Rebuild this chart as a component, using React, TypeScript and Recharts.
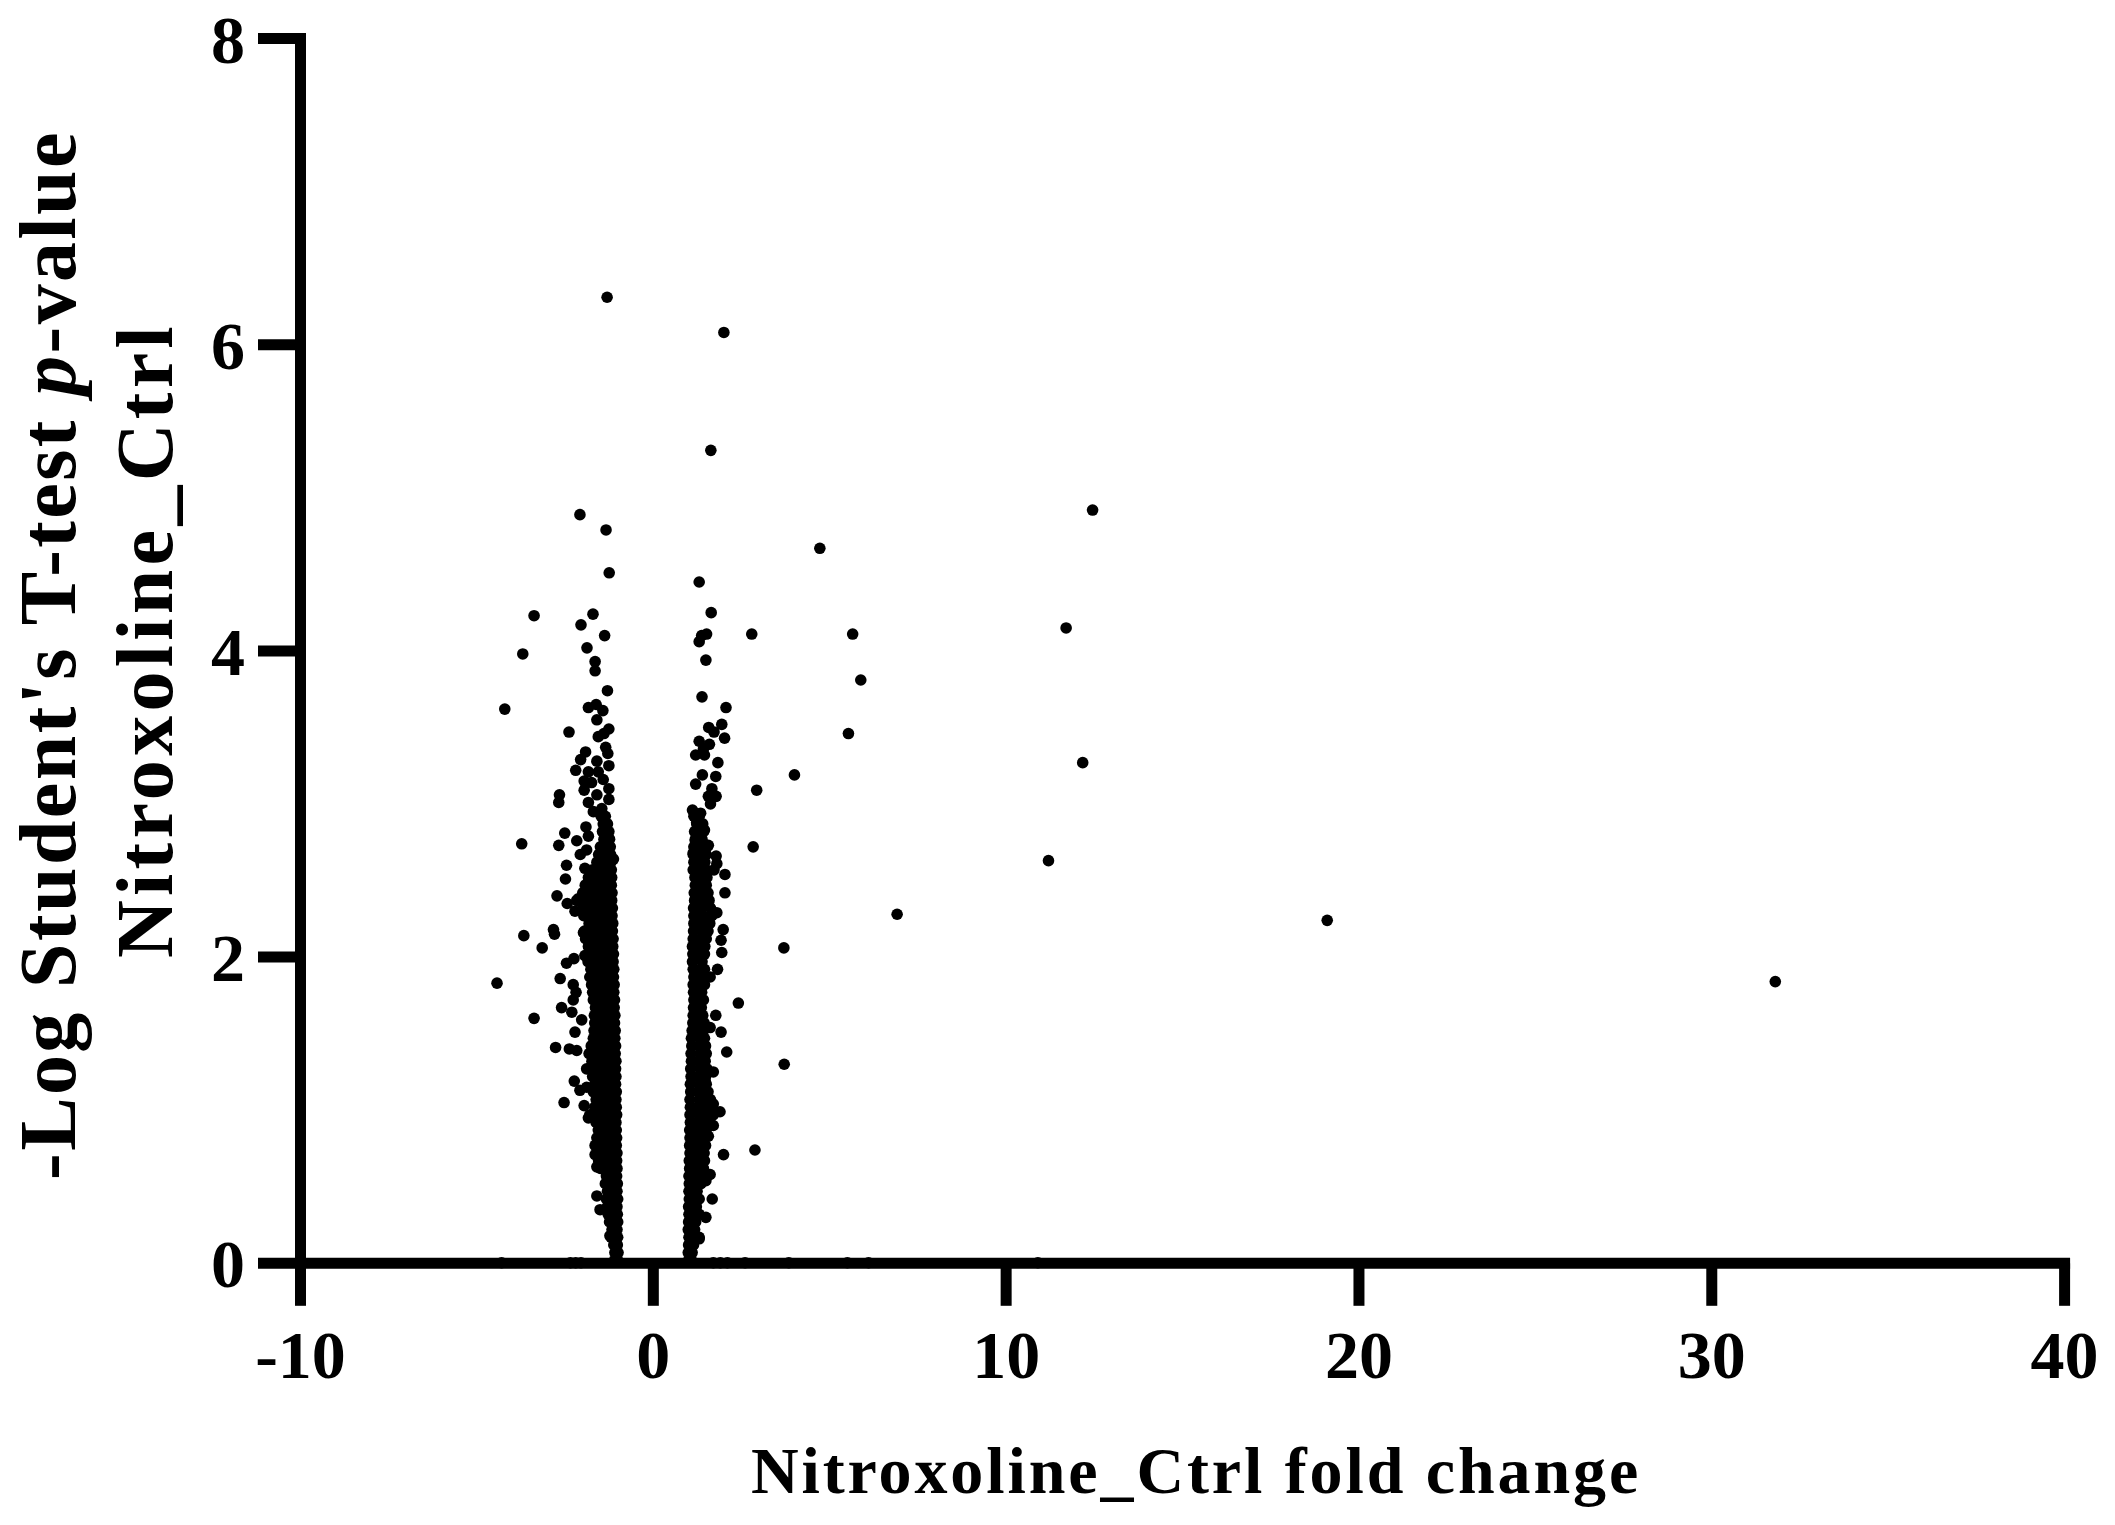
import React from 'react';
import { ScatterChart, Scatter, XAxis, YAxis } from 'recharts';

const xTicks = [-10, 0, 10, 20, 30, 40];
const yTicks = [0, 2, 4, 6, 8];

// far from the two bands: [fold change, -log p]
const rightOutliers: number[][] = [
  [31.8, 1.84], [19.1, 2.24], [12.45, 4.92], [11.7, 4.15], [12.17, 3.27], [11.2, 2.63],
  [6.91, 2.28], [4.72, 4.67], [5.65, 4.11], [5.88, 3.81], [5.53, 3.46], [4.0, 3.19],
  [2.93, 3.09], [2.83, 2.72], [3.7, 2.06], [3.71, 1.3], [2.88, 0.74], [2.79, 4.11],
  [2.41, 1.7], [2.0, 6.08], [1.63, 5.31], [1.3, 4.45], [1.64, 4.25], [1.51, 4.11],
  [1.37, 4.1], [1.3, 4.06], [1.49, 3.94], [1.38, 3.7], [2.06, 3.63], [1.94, 3.52],
  [1.57, 3.5], [1.72, 3.47], [2.02, 3.43], [1.3, 3.41], [1.59, 3.39], [1.42, 3.36],
  [1.2, 3.32], [1.45, 3.32], [1.83, 3.27], [1.39, 3.19], [1.77, 3.18], [1.2, 3.13],
  [1.66, 3.1], [1.56, 3.05], [1.78, 3.05], [1.62, 3.0], [1.11, 2.96], [1.34, 2.94],
  [1.23, 2.88], [1.45, 2.83], [1.19, 2.76], [1.56, 2.73], [1.13, 2.68], [1.37, 2.68],
  [1.78, 2.66], [1.8, 2.61], [1.72, 2.57], [2.03, 2.54], [2.03, 2.42], [1.8, 2.29],
  [1.98, 2.18], [1.92, 2.11], [1.94, 2.03], [1.82, 1.92], [1.61, 1.87], [1.77, 1.62],
  [1.92, 1.51], [1.61, 1.54], [2.08, 1.38], [1.7, 1.25], [1.47, 1.19], [1.89, 0.99],
  [1.7, 1.04], [1.7, 0.9], [1.56, 0.83], [1.99, 0.71], [1.61, 0.58], [1.49, 0.54],
  [1.67, 0.42], [1.49, 0.3], [1.3, 0.16],
];

const leftOutliers: number[][] = [
  [-1.31, 6.31], [-2.08, 4.89], [-1.34, 4.79], [-1.25, 4.51], [-3.38, 4.23], [-1.71, 4.24],
  [-2.05, 4.17], [-1.38, 4.1], [-1.88, 4.02], [-3.7, 3.98], [-1.65, 3.93], [-1.65, 3.87],
  [-1.3, 3.74], [-4.21, 3.62], [-1.84, 3.63], [-1.62, 3.65], [-1.43, 3.61], [-1.6, 3.55],
  [-2.39, 3.47], [-1.26, 3.49], [-1.4, 3.46], [-1.56, 3.44], [-1.35, 3.37], [-1.29, 3.33],
  [-1.92, 3.34], [-2.06, 3.29], [-2.2, 3.22], [-1.6, 3.28], [-1.26, 3.25], [-1.84, 3.21],
  [-1.56, 3.21], [-1.96, 3.15], [-1.96, 3.09], [-1.75, 3.14], [-1.42, 3.16], [-1.26, 3.1],
  [-1.6, 3.06], [-1.26, 3.03], [-2.66, 3.06], [-2.68, 3.01], [-1.84, 3.01], [-1.7, 2.95],
  [-1.46, 2.97], [-1.91, 2.85], [-2.51, 2.81], [-3.73, 2.74], [-2.68, 2.73], [-2.17, 2.76],
  [-1.84, 2.79], [-2.07, 2.67], [-1.89, 2.7], [-2.46, 2.6], [-2.49, 2.51], [-1.94, 2.58],
  [-1.13, 2.64], [-2.73, 2.4], [-2.13, 2.38], [-2.44, 2.35], [-2.17, 2.37], [-2.22, 2.3],
  [-2.83, 2.18], [-2.8, 2.15], [-3.67, 2.14], [-3.15, 2.06], [-1.98, 2.16], [-2.46, 1.96],
  [-2.25, 1.99], [-1.94, 2.01], [-4.43, 1.83], [-2.64, 1.86], [-2.27, 1.82], [-2.19, 1.77],
  [-2.27, 1.72], [-2.6, 1.67], [-2.31, 1.64], [-3.38, 1.6], [-2.03, 1.59], [-2.22, 1.51],
  [-2.77, 1.41], [-2.38, 1.4], [-2.17, 1.39], [-1.89, 1.27], [-2.24, 1.19], [-2.08, 1.13],
  [-1.89, 1.15], [-2.53, 1.05], [-1.96, 1.03], [-1.84, 0.95], [-1.65, 0.77], [-1.65, 0.71],
  [-1.6, 0.63], [-1.6, 0.44], [-1.51, 0.35], [-1.23, 0.18],
];

// points sitting almost on the x axis, only their tops show above the line
const baselinePoints: number[][] = [
  [-4.3, 0.004], [-2.35, 0.004], [-2.2, 0.004], [-2.05, 0.004], [1.7, 0.004], [1.9, 0.004],
  [2.1, 0.004], [2.6, 0.004], [3.84, 0.004], [5.5, 0.004], [6.1, 0.004], [10.9, 0.004],
];

// dense bands, one row per -log p: [-log p, fold change, fold change, ...]
const leftBandRows: number[][] = [
  [0.02, -1.01, -1.1], [0.07, -1.0, -1.09], [0.12, -1.02, -1.12], [0.17, -1.01, -1.2],
  [0.22, -1.03, -1.17], [0.27, -1.01, -1.14, -1.24], [0.32, -1.02, -1.19, -1.28],
  [0.37, -1.03, -1.15, -1.3], [0.42, -1.01, -1.2, -1.33], [0.47, -1.03, -1.16, -1.3],
  [0.52, -1.02, -1.22, -1.36], [0.57, -1.04, -1.18, -1.33], [0.62, -1.03, -1.25, -1.45, -1.5],
  [0.67, -1.04, -1.22, -1.42, -1.55], [0.72, -1.03, -1.27, -1.47, -1.6],
  [0.77, -1.05, -1.2, -1.4, -1.58], [0.82, -1.04, -1.26, -1.46, -1.6],
  [0.87, -1.05, -1.21, -1.4, -1.56], [0.92, -1.06, -1.28, -1.48, -1.62],
  [0.97, -1.04, -1.22, -1.41, -1.6, -1.8], [1.02, -1.05, -1.27, -1.47, -1.66],
  [1.07, -1.06, -1.21, -1.42, -1.62], [1.12, -1.05, -1.29, -1.5, -1.7],
  [1.17, -1.07, -1.23, -1.44, -1.66], [1.22, -1.06, -1.28, -1.5, -1.72],
  [1.27, -1.07, -1.22, -1.44, -1.65, -1.8], [1.32, -1.06, -1.29, -1.5, -1.74],
  [1.37, -1.08, -1.24, -1.45, -1.68, -1.82], [1.42, -1.07, -1.3, -1.52, -1.76],
  [1.47, -1.09, -1.25, -1.46, -1.7], [1.52, -1.08, -1.3, -1.5, -1.68],
  [1.57, -1.1, -1.26, -1.47, -1.66], [1.62, -1.09, -1.31, -1.52, -1.67],
  [1.67, -1.11, -1.27, -1.48, -1.64], [1.72, -1.1, -1.32, -1.52, -1.7],
  [1.77, -1.12, -1.28, -1.49, -1.72], [1.82, -1.11, -1.33, -1.54, -1.75],
  [1.87, -1.13, -1.29, -1.5, -1.72, -1.8], [1.92, -1.12, -1.34, -1.55, -1.77],
  [1.97, -1.14, -1.3, -1.51, -1.73, -1.85], [2.02, -1.13, -1.35, -1.56, -1.79],
  [2.07, -1.15, -1.31, -1.52, -1.74, -1.84], [2.12, -1.14, -1.36, -1.57, -1.8, -1.92],
  [2.17, -1.16, -1.32, -1.53, -1.76, -1.95], [2.22, -1.15, -1.37, -1.58, -1.82],
  [2.27, -1.17, -1.33, -1.54, -1.77, -1.97], [2.32, -1.16, -1.38, -1.6, -1.83, -2.0],
  [2.37, -1.18, -1.34, -1.55, -1.78, -1.98], [2.42, -1.17, -1.39, -1.61, -1.84, -2.0],
  [2.47, -1.19, -1.35, -1.56, -1.78, -1.93], [2.52, -1.18, -1.4, -1.62, -1.84],
  [2.57, -1.19, -1.36, -1.58, -1.72], [2.62, -1.2, -1.41, -1.6], [2.67, -1.21, -1.38, -1.55],
  [2.72, -1.22, -1.42, -1.5], [2.77, -1.24, -1.4], [2.82, -1.26, -1.44], [2.87, -1.3, -1.42],
  [2.92, -1.36, -1.48],
];

const rightBandRows: number[][] = [
  [0.02, 1.0, 1.08], [0.07, 0.99, 1.1], [0.12, 1.0, 1.14], [0.17, 1.01, 1.15, 1.3],
  [0.22, 0.99, 1.17], [0.27, 1.0, 1.2], [0.32, 1.01, 1.17, 1.3], [0.37, 1.0, 1.22],
  [0.42, 1.02, 1.18, 1.3], [0.47, 1.01, 1.24], [0.52, 1.02, 1.2, 1.35], [0.57, 1.01, 1.25, 1.4],
  [0.62, 1.03, 1.22, 1.42], [0.67, 1.02, 1.27, 1.45], [0.72, 1.04, 1.24, 1.44],
  [0.77, 1.03, 1.28, 1.48], [0.82, 1.04, 1.24, 1.45], [0.87, 1.03, 1.29, 1.5],
  [0.92, 1.05, 1.26, 1.48, 1.6], [0.97, 1.04, 1.3, 1.5, 1.7], [1.02, 1.05, 1.26, 1.47, 1.66],
  [1.07, 1.04, 1.31, 1.52, 1.62], [1.12, 1.06, 1.27, 1.48, 1.55], [1.17, 1.05, 1.32, 1.5],
  [1.22, 1.07, 1.28, 1.48], [1.27, 1.06, 1.33, 1.52], [1.32, 1.08, 1.29, 1.47],
  [1.37, 1.07, 1.33, 1.5], [1.42, 1.09, 1.3, 1.48], [1.47, 1.08, 1.34, 1.45],
  [1.52, 1.1, 1.31, 1.42], [1.57, 1.12, 1.34, 1.44], [1.62, 1.13, 1.31, 1.4],
  [1.67, 1.14, 1.36], [1.72, 1.15, 1.33, 1.42], [1.77, 1.14, 1.37], [1.82, 1.13, 1.34, 1.45],
  [1.87, 1.15, 1.38, 1.46], [1.92, 1.13, 1.35, 1.45], [1.97, 1.11, 1.38],
  [2.02, 1.12, 1.34, 1.45], [2.07, 1.11, 1.37, 1.46], [2.12, 1.13, 1.35, 1.5],
  [2.17, 1.14, 1.38, 1.55], [2.22, 1.15, 1.36, 1.6], [2.27, 1.15, 1.4, 1.66],
  [2.32, 1.14, 1.37, 1.62], [2.37, 1.17, 1.42, 1.58], [2.42, 1.16, 1.38, 1.55],
  [2.47, 1.19, 1.44, 1.5], [2.52, 1.18, 1.4, 1.52], [2.57, 1.13, 1.36, 1.5],
  [2.62, 1.15, 1.4, 1.46], [2.67, 1.13, 1.37, 1.5], [2.72, 1.15, 1.4, 1.52],
  [2.77, 1.19, 1.38], [2.82, 1.17, 1.42], [2.87, 1.23, 1.4], [2.92, 1.15, 1.3],
];

const fromPairs = (pairs: number[][]) => pairs.map(([foldChange, logP]) => ({ foldChange, logP }));
const fromRows = (rows: number[][]) =>
  rows.flatMap(([logP, ...folds]) => folds.map((foldChange) => ({ foldChange, logP })));

const points = [
  ...fromPairs(leftOutliers),
  ...fromPairs(rightOutliers),
  ...fromPairs(baselinePoints),
  ...fromRows(leftBandRows),
  ...fromRows(rightBandRows),
];

const serif = '"Liberation Serif", serif';
const tickStyle = { fontFamily: serif, fontWeight: 700, fontSize: 68, fill: '#000' };
const axisLine = { stroke: '#000', strokeWidth: 11, strokeLinecap: 'square' as const };
const tickLine = { stroke: '#000', strokeWidth: 11 };

const Dot = (props: any) => <circle cx={props.cx} cy={props.cy} r={5.8} fill="#000" />;

const XTitle = () => (
  <text x={1196} y={1493} textAnchor="middle" fontFamily={serif} fontWeight={700} fontSize={66} letterSpacing={2.9} fill="#000">
    Nitroxoline_Ctrl fold change
  </text>
);

const YTitle = () => (
  <g fontFamily={serif} fontWeight={700} fontSize={80} fill="#000" textAnchor="middle">
    <text transform="translate(75 655) rotate(-90)" letterSpacing={2.4}>
      -Log Student's T-test <tspan fontStyle="italic">p</tspan>-value
    </text>
    <text transform="translate(172 640) rotate(-90)" letterSpacing={4.3}>
      Nitroxoline_Ctrl
    </text>
  </g>
);

export default function App() {
  return (
    <div style={{ position: 'absolute', left: 0, top: 0, width: 2115, height: 1525, background: '#fff' }}>
      <ScatterChart width={2115} height={1525} margin={{ top: 38.5, right: 50.4, bottom: 0, left: 0 }}>
        <XAxis
          type="number"
          dataKey="foldChange"
          domain={[-10, 40]}
          ticks={xTicks}
          interval={0}
          height={261.7}
          tickSize={42.5}
          tickMargin={24}
          tick={tickStyle}
          axisLine={axisLine}
          tickLine={tickLine}
          label={<XTitle />}
        />
        <YAxis
          type="number"
          dataKey="logP"
          domain={[0, 8]}
          ticks={yTicks}
          interval={0}
          width={300.5}
          tickSize={42.5}
          tickMargin={13}
          tick={tickStyle}
          axisLine={axisLine}
          tickLine={tickLine}
          label={<YTitle />}
        />
        <Scatter data={points} shape={<Dot />} isAnimationActive={false} />
      </ScatterChart>
    </div>
  );
}
